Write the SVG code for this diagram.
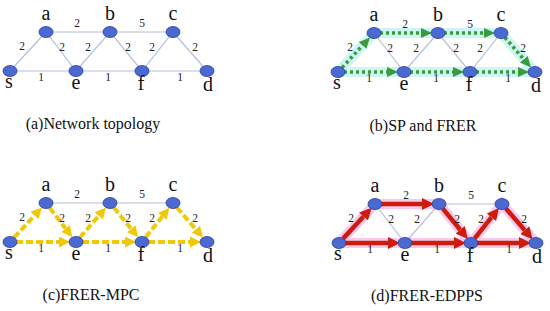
<svg xmlns="http://www.w3.org/2000/svg" width="550" height="311" viewBox="0 0 550 311">
<defs>
<style>
.thin{stroke:#b6bedc;stroke-width:1.2;fill:none}
.node{fill:#4a6ad2;stroke:#2a3c9a;stroke-width:0.8}
.lbl{font-family:"Liberation Serif","Times New Roman",serif;font-size:20px;fill:#111;text-anchor:middle}
.w{font-family:"Liberation Serif","Times New Roman",serif;font-size:11.5px;fill:#222;text-anchor:middle}
.cap{font-family:"Liberation Serif","Times New Roman",serif;font-size:16px;fill:#111;text-anchor:middle}
.hlg{stroke:#cdf5f1;stroke-width:10;fill:none}
.hlr{stroke:#f8c8ee;stroke-width:10;fill:none}
.grn{stroke:#3a9a40;stroke-width:3.6;stroke-dasharray:3 3;fill:none;marker-end:url(#mg)}
.yel{stroke:#f0c808;stroke-width:4;stroke-dasharray:7 3;fill:none;marker-end:url(#my)}
.red{stroke:#cc1c0c;stroke-width:4.5;fill:none;marker-end:url(#mr)}
</style>
<marker id="mg" markerUnits="userSpaceOnUse" markerWidth="12" markerHeight="10" refX="0" refY="5" orient="auto"><path d="M0,0 L11,5 L0,10 z" fill="#3a9a40"/></marker>
<marker id="my" markerUnits="userSpaceOnUse" markerWidth="12" markerHeight="11" refX="0" refY="5.5" orient="auto"><path d="M0,0 L11,5.5 L0,11 z" fill="#f0c808"/></marker>
<marker id="mr" markerUnits="userSpaceOnUse" markerWidth="13" markerHeight="12" refX="0" refY="6" orient="auto"><path d="M0,0 L12,6 L0,12 z" fill="#cc1c0c"/></marker>
</defs>
<rect width="550" height="311" fill="#fff"/>

<!-- Panel (a) -->
<g id="panel-a">
<g id="a-edges">
<path class="thin" d="M10,71 L46,32 L76,71 L110,32 L142,71 L173,32 L207,71 M46,32 L173,32 M10,71 L207,71"/>
</g>
<g id="a-weights">
<text class="w" x="77" y="27">2</text><text class="w" x="142" y="27">5</text>
<text class="w" x="22" y="50">2</text><text class="w" x="62" y="51">2</text><text class="w" x="88" y="51">2</text>
<text class="w" x="128" y="51">2</text><text class="w" x="152" y="51">2</text><text class="w" x="195" y="51">2</text>
<text class="w" x="41" y="81">1</text><text class="w" x="108" y="81">1</text><text class="w" x="180" y="81">1</text>
</g>
<g id="a-s"><ellipse class="node" cx="10" cy="71" rx="7" ry="5.5"/><text class="lbl" x="9" y="88">s</text></g>
<g id="a-a"><ellipse class="node" cx="46" cy="32" rx="7" ry="5.5"/><text class="lbl" x="46" y="20">a</text></g>
<g id="a-b"><ellipse class="node" cx="110" cy="32" rx="7" ry="5.5"/><text class="lbl" x="110" y="20">b</text></g>
<g id="a-c"><ellipse class="node" cx="173" cy="32" rx="7" ry="5.5"/><text class="lbl" x="173" y="20">c</text></g>
<g id="a-e"><ellipse class="node" cx="76" cy="71" rx="7" ry="5.5"/><text class="lbl" x="76" y="89">e</text></g>
<g id="a-f"><ellipse class="node" cx="142" cy="71" rx="7" ry="5.5"/><text class="lbl" x="141" y="90">f</text></g>
<g id="a-d"><ellipse class="node" cx="207" cy="71" rx="7" ry="5.5"/><text class="lbl" x="208" y="91">d</text></g>
<text class="cap" x="93" y="129">(a)Network topology</text>
</g>

<!-- Panel (b) -->
<g id="panel-b" transform="translate(328,1)">
<g id="b-edges">
<path class="thin" d="M46,32 L76,71 L110,32 L142,71 L173,32"/>
<path class="hlg" d="M10,71 L46,32 L173,32 L207,71 M10,71 L207,71"/>
<path class="grn" d="M14.1,66.6 L34.5,44.5"/>
<path class="grn" d="M52,32 L93,32"/>
<path class="grn" d="M116,32 L156,32"/>
<path class="grn" d="M176.9,36.5 L195.8,58.2"/>
<path class="grn" d="M16,71 L59,71"/>
<path class="grn" d="M82,71 L125,71"/>
<path class="grn" d="M148,71 L190,71"/>
</g>
<g id="b-weights">
<text class="w" x="77" y="27">2</text><text class="w" x="142" y="27">5</text>
<text class="w" x="22" y="50">2</text><text class="w" x="62" y="51">2</text><text class="w" x="88" y="51">2</text>
<text class="w" x="128" y="51">2</text><text class="w" x="152" y="51">2</text><text class="w" x="195" y="51">2</text>
<text class="w" x="41" y="81">1</text><text class="w" x="108" y="81">1</text><text class="w" x="180" y="81">1</text>
</g>
<g id="b-s"><ellipse class="node" cx="10" cy="71" rx="7" ry="5.5"/><text class="lbl" x="9" y="88">s</text></g>
<g id="b-a"><ellipse class="node" cx="46" cy="32" rx="7" ry="5.5"/><text class="lbl" x="46" y="20">a</text></g>
<g id="b-b"><ellipse class="node" cx="110" cy="32" rx="7" ry="5.5"/><text class="lbl" x="110" y="20">b</text></g>
<g id="b-c"><ellipse class="node" cx="173" cy="32" rx="7" ry="5.5"/><text class="lbl" x="173" y="20">c</text></g>
<g id="b-e"><ellipse class="node" cx="76" cy="71" rx="7" ry="5.5"/><text class="lbl" x="76" y="89">e</text></g>
<g id="b-f"><ellipse class="node" cx="142" cy="71" rx="7" ry="5.5"/><text class="lbl" x="141" y="90">f</text></g>
<g id="b-d"><ellipse class="node" cx="207" cy="71" rx="7" ry="5.5"/><text class="lbl" x="208" y="91">d</text></g>
<text class="cap" x="95" y="130">(b)SP and FRER</text>
</g>

<!-- Panel (c) -->
<g id="panel-c" transform="translate(0,171)">
<g id="c-edges">
<path class="thin" d="M46,32 L173,32"/>
<path class="yel" d="M14.1,66.6 L34.5,44.5"/>
<path class="yel" d="M49.7,36.8 L65.6,57.5"/>
<path class="yel" d="M79.9,66.5 L98.8,44.8"/>
<path class="yel" d="M113.8,36.6 L131.2,57.8"/>
<path class="yel" d="M145.7,66.3 L162.4,45.3"/>
<path class="yel" d="M176.9,36.5 L195.8,58.2"/>
<path class="yel" d="M16,71 L59,71"/>
<path class="yel" d="M82,71 L125,71"/>
<path class="yel" d="M148,71 L190,71"/>
</g>
<g id="c-weights">
<text class="w" x="77" y="27">2</text><text class="w" x="142" y="27">5</text>
<text class="w" x="22" y="50">2</text><text class="w" x="62" y="51">2</text><text class="w" x="88" y="51">2</text>
<text class="w" x="128" y="51">2</text><text class="w" x="152" y="51">2</text><text class="w" x="195" y="51">2</text>
<text class="w" x="41" y="81">1</text><text class="w" x="108" y="81">1</text><text class="w" x="180" y="81">1</text>
</g>
<g id="c-s"><ellipse class="node" cx="10" cy="71" rx="7" ry="5.5"/><text class="lbl" x="9" y="88">s</text></g>
<g id="c-a"><ellipse class="node" cx="46" cy="32" rx="7" ry="5.5"/><text class="lbl" x="46" y="20">a</text></g>
<g id="c-b"><ellipse class="node" cx="110" cy="32" rx="7" ry="5.5"/><text class="lbl" x="110" y="20">b</text></g>
<g id="c-c"><ellipse class="node" cx="173" cy="32" rx="7" ry="5.5"/><text class="lbl" x="173" y="20">c</text></g>
<g id="c-e"><ellipse class="node" cx="76" cy="71" rx="7" ry="5.5"/><text class="lbl" x="76" y="89">e</text></g>
<g id="c-f"><ellipse class="node" cx="142" cy="71" rx="7" ry="5.5"/><text class="lbl" x="141" y="90">f</text></g>
<g id="c-d"><ellipse class="node" cx="207" cy="71" rx="7" ry="5.5"/><text class="lbl" x="208" y="91">d</text></g>
<text class="cap" x="91" y="129">(c)FRER-MPC</text>
</g>

<!-- Panel (d) -->
<g id="panel-d" transform="translate(329,172)">
<g id="d-edges">
<path class="thin" d="M46,32 L76,71 L110,32 L173,32"/>
<path class="hlr" d="M10,71 L46,32 L110,32 L142,71 L173,32 L207,71 M10,71 L207,71"/>
<path class="red" d="M14.1,66.6 L34.5,44.5"/>
<path class="red" d="M52,32 L93,32"/>
<path class="red" d="M113.8,36.6 L131.2,57.8"/>
<path class="red" d="M145.7,66.3 L162.4,45.3"/>
<path class="red" d="M176.9,36.5 L195.8,58.2"/>
<path class="red" d="M16,71 L59,71"/>
<path class="red" d="M82,71 L125,71"/>
<path class="red" d="M148,71 L190,71"/>
</g>
<g id="d-weights">
<text class="w" x="77" y="27">2</text><text class="w" x="142" y="27">5</text>
<text class="w" x="22" y="50">2</text><text class="w" x="62" y="51">2</text><text class="w" x="88" y="51">2</text>
<text class="w" x="128" y="51">2</text><text class="w" x="152" y="51">2</text><text class="w" x="195" y="51">2</text>
<text class="w" x="41" y="81">1</text><text class="w" x="108" y="81">1</text><text class="w" x="180" y="81">1</text>
</g>
<g id="d-s"><ellipse class="node" cx="10" cy="71" rx="7" ry="5.5"/><text class="lbl" x="9" y="88">s</text></g>
<g id="d-a"><ellipse class="node" cx="46" cy="32" rx="7" ry="5.5"/><text class="lbl" x="46" y="20">a</text></g>
<g id="d-b"><ellipse class="node" cx="110" cy="32" rx="7" ry="5.5"/><text class="lbl" x="110" y="20">b</text></g>
<g id="d-c"><ellipse class="node" cx="173" cy="32" rx="7" ry="5.5"/><text class="lbl" x="173" y="20">c</text></g>
<g id="d-e"><ellipse class="node" cx="76" cy="71" rx="7" ry="5.5"/><text class="lbl" x="76" y="89">e</text></g>
<g id="d-f"><ellipse class="node" cx="142" cy="71" rx="7" ry="5.5"/><text class="lbl" x="141" y="90">f</text></g>
<g id="d-d"><ellipse class="node" cx="207" cy="71" rx="7" ry="5.5"/><text class="lbl" x="208" y="91">d</text></g>
<text class="cap" x="98" y="129">(d)FRER-EDPPS</text>
</g>
</svg>
